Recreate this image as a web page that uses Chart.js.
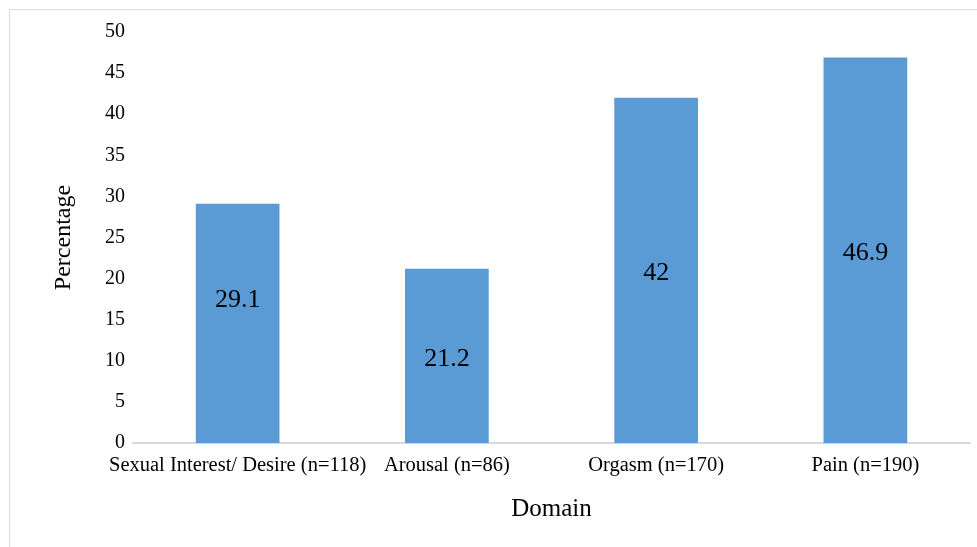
<!DOCTYPE html>
<html>
<head>
<meta charset="utf-8">
<script src="https://cdn.jsdelivr.net/npm/chart.js@4/dist/chart.umd.min.js"></script>
<style>
  html, body { margin: 0; padding: 0; background: #fff; }
  #wrap { position: relative; width: 977px; height: 547px; overflow: hidden; }
  #frame { position: absolute; left: 9px; top: 9px; width: 1000px; height: 600px;
           border-left: 1px solid #d9d9d9; border-top: 1px solid #d9d9d9; box-sizing: border-box; }
  canvas { position: absolute; left: 0; top: 0; }
</style>
</head>
<body>
<div id="wrap">
  <div id="frame"></div>
  <canvas id="chart" width="977" height="547"></canvas>
</div>
<script>
// Share of women reporting a problem in each sexual function domain
const domains = [
  'Sexual Interest/ Desire (n=118)',
  'Arousal (n=86)',
  'Orgasm (n=170)',
  'Pain (n=190)'
];
const percentages = [29.1, 21.2, 42, 46.9];
const yTicks = [0, 5, 10, 15, 20, 25, 30, 35, 40, 45, 50];

const SERIF = '"Liberation Serif", "Times New Roman", serif';

// Writes each bar's value inside the bar
const barValueLabels = {
  id: 'barValueLabels',
  afterDatasetsDraw(chart, args, opts) {
    const ctx = chart.ctx;
    const meta = chart.getDatasetMeta(0);
    ctx.save();
    ctx.font = '26px ' + SERIF;
    ctx.fillStyle = '#000';
    ctx.textAlign = 'center';
    ctx.textBaseline = 'middle';
    meta.data.forEach((bar, i) => {
      const shift = (opts.shift && opts.shift[i]) || 0;
      const yMid = (bar.y + bar.base) / 2 + shift + 3;
      ctx.fillText(String(chart.data.datasets[0].data[i]), bar.x, yMid);
    });
    ctx.restore();
  }
};

new Chart(document.getElementById('chart'), {
  type: 'bar',
  data: {
    labels: domains,
    datasets: [{
      data: percentages,
      backgroundColor: '#5b9bd5',
      borderWidth: 0,
      barPercentage: 0.4,
      categoryPercentage: 1.0
    }]
  },
  options: {
    responsive: false,
    animation: false,
    devicePixelRatio: 1,
    layout: { padding: { top: 32, right: 7, left: 0, bottom: 0 } },
    plugins: {
      legend: { display: false },
      tooltip: { enabled: false },
      barValueLabels: { shift: [-26, 0, 0, 0] }
    },
    scales: {
      x: {
        grid: { display: false, drawTicks: false },
        border: { display: true, color: '#d9d9d9', width: 2 },
        ticks: {
          color: '#000',
          font: { family: SERIF, size: 20.5 },
          padding: 10,
          maxRotation: 0,
          autoSkip: false
        },
        title: {
          display: true,
          text: 'Domain',
          color: '#000',
          font: { family: SERIF, size: 25 },
          padding: { top: 0, bottom: 23 }
        },
        afterFit(scale) { scale.height = 104; }
      },
      y: {
        min: 0,
        max: 50,
        afterBuildTicks(scale) { scale.ticks = yTicks.map(v => ({ value: v })); },
        grid: { display: false, drawTicks: false },
        border: { display: false },
        ticks: {
          color: '#000',
          font: { family: SERIF, size: 20 },
          padding: 8
        },
        title: {
          display: true,
          text: 'Percentage',
          color: '#000',
          font: { family: SERIF, size: 24 },
          padding: { top: 49, bottom: 0 }
        },
        afterFit(scale) { scale.width = 133; }
      }
    }
  },
  plugins: [barValueLabels]
});
</script>
</body>
</html>
